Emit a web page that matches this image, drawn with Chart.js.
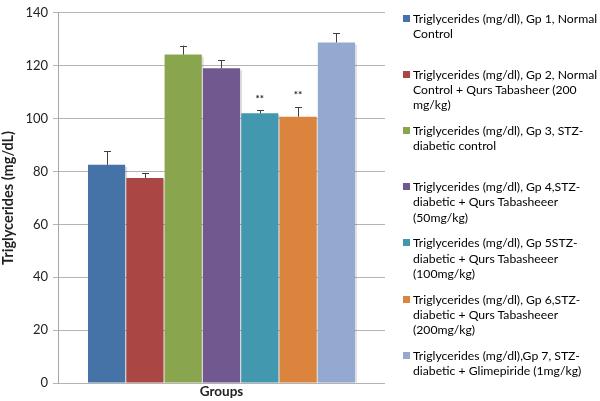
<!DOCTYPE html>
<html>
<head>
<meta charset="utf-8">
<script src="https://cdn.jsdelivr.net/npm/chart.js@4.4.1/dist/chart.umd.min.js"></script>
<style>
  html, body { margin: 0; padding: 0; background: #fff; }
  #wrap { position: relative; width: 600px; height: 401px; }
  #legend { position: absolute; left: 0; top: 0; width: 600px; height: 401px; pointer-events: none;
            font-family: Lato, "Open Sans", sans-serif; font-size: 12.2px; color: #000; }
  .item { position: absolute; left: 403px; }
  .mark { position: absolute; left: 0; width: 7px; height: 7px; }
  .txt { position: absolute; left: 10px; white-space: pre; line-height: 15.3px; }
</style>
</head>
<body>
<div id="wrap">
  <canvas id="c" width="600" height="401"></canvas>
  <div id="legend"></div>
</div>
<script>
const categories = [''];
const groupLabels = [
  ['Triglycerides (mg/dl), Gp 1, Normal', 'Control'],
  ['Triglycerides (mg/dl), Gp 2, Normal', 'Control + Qurs Tabasheer (200', 'mg/kg)'],
  ['Triglycerides (mg/dl), Gp 3, STZ-', 'diabetic control'],
  ['Triglycerides (mg/dl), Gp 4,STZ-', 'diabetic + Qurs Tabasheeer', '(50mg/kg)'],
  ['Triglycerides (mg/dl), Gp 5STZ-', 'diabetic + Qurs Tabasheeer', '(100mg/kg)'],
  ['Triglycerides (mg/dl), Gp 6,STZ-', 'diabetic + Qurs Tabasheeer', '(200mg/kg)'],
  ['Triglycerides (mg/dl),Gp 7, STZ-', 'diabetic + Glimepiride (1mg/kg)']
];
const means = [82.5, 77.5, 124.2, 119.0, 102.0, 100.7, 128.8];
const sem = [5.2, 1.9, 3.4, 3.1, 1.1, 3.6, 3.4];
const significance = ['', '', '', '', '**', '**', ''];
const colors = ['#4572A7', '#AA4643', '#89A54E', '#71588F', '#4198AF', '#DB843D', '#93A9CF'];
const yTicks = [0, 20, 40, 60, 80, 100, 120, 140];

const datasets = means.map((m, i) => ({
  label: groupLabels[i].join(' '),
  data: [m],
  backgroundColor: colors[i],
  borderWidth: 0,
  categoryPercentage: 0.82,
  barPercentage: 0.97
}));

const errorPlugin = {
  id: 'errorBars',
  afterDatasetsDraw(chart) {
    const ctx = chart.ctx;
    const ys = chart.scales.y;
    ctx.save();
    chart.data.datasets.forEach((ds, i) => {
      const bar = chart.getDatasetMeta(i).data[0];
      const top = ys.getPixelForValue(means[i] + sem[i]);
      ctx.strokeStyle = '#404040';
      ctx.lineWidth = 1;
      ctx.beginPath();
      ctx.moveTo(Math.round(bar.x) + 0.5, bar.y);
      ctx.lineTo(Math.round(bar.x) + 0.5, top);
      ctx.moveTo(Math.round(bar.x) - 3, Math.round(top) + 0.5);
      ctx.lineTo(Math.round(bar.x) + 4, Math.round(top) + 0.5);
      ctx.stroke();
      if (significance[i]) {
        ctx.fillStyle = '#222';
        ctx.font = 'bold 10px Lato, sans-serif';
        ctx.textAlign = 'center';
        ctx.textBaseline = 'middle';
        ctx.fillText(significance[i], bar.x, top - 12);
      }
    });
    ctx.restore();
  }
};

const shadowPlugin = {
  id: 'barShadow',
  beforeDatasetsDraw(chart) {
    const ctx = chart.ctx;
    ctx.save();
    chart.data.datasets.forEach((ds, i) => {
      const bar = chart.getDatasetMeta(i).data[0];
      const w = bar.width;
      ctx.fillStyle = 'rgba(0,0,0,0.12)';
      ctx.fillRect(bar.x - w / 2 + 2, bar.y + 2, w, bar.base - bar.y - 2);
    });
    ctx.restore();
  }
};

new Chart(document.getElementById('c'), {
  type: 'bar',
  data: { labels: categories, datasets },
  plugins: [shadowPlugin, errorPlugin],
  options: {
    responsive: false,
    animation: false,
    layout: { padding: { left: 0, right: 215, top: 4, bottom: 0 } },
    plugins: { legend: { display: false }, tooltip: { enabled: false } },
    scales: {
      x: {
        grid: { display: false },
        border: { display: false },
        ticks: { display: false },
        title: { display: true, text: 'Groups', color: '#222', font: { family: 'Lato', size: 13.5, weight: 'bold' }, padding: { top: 0, bottom: 1 } },
        afterFit(s) { s.height = 18; }
      },
      y: {
        min: 0, max: 140,
        afterBuildTicks(s) { s.ticks = yTicks.map(v => ({ value: v })); },
        grid: { color: '#b3b3b3', tickLength: 5, drawTicks: true },
        border: { color: '#a6a6a6' },
        ticks: { color: '#222', font: { family: 'Lato', size: 13 }, padding: 5 },
        title: { display: true, text: 'Triglycerides (mg/dL)', color: '#222', font: { family: 'Lato', size: 14.5, weight: 'bold' }, padding: { top: 0, bottom: 2 } },
        afterFit(s) { s.width = 58; }
      }
    }
  }
});

// HTML legend built from the dataset arrays
const legend = document.getElementById('legend');
groupLabels.forEach((lines, i) => {
  const item = document.createElement('div');
  item.className = 'item';
  item.style.top = (10.5 + i * 56.2) + 'px';
  const mk = document.createElement('div');
  mk.className = 'mark';
  mk.style.background = colors[i];
  mk.style.top = '4px';
  const tx = document.createElement('div');
  tx.className = 'txt';
  tx.textContent = lines.join('\n');
  item.appendChild(mk);
  item.appendChild(tx);
  legend.appendChild(item);
});
</script>
</body>
</html>
